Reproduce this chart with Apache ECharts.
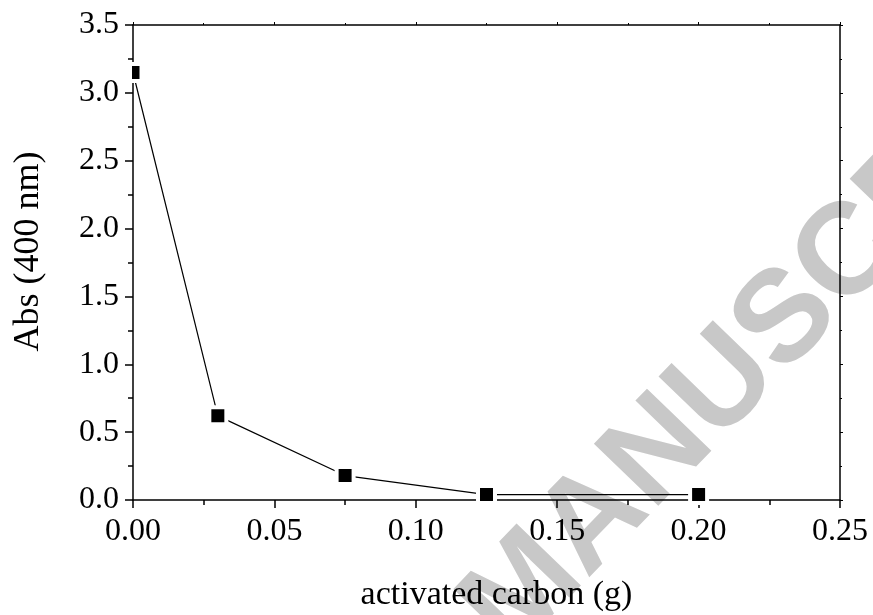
<!DOCTYPE html>
<html>
<head>
<meta charset="utf-8">
<script src="https://cdn.jsdelivr.net/npm/echarts@6/dist/echarts.min.js"></script>
<style>
html, body { margin: 0; padding: 0; background: #fff; }
#chart { width: 873px; height: 615px; }
</style>
</head>
<body>
<div id="chart"></div>
<script>
// activated carbon dose (g) vs absorbance at 400 nm
var carbon = [0, 0.03, 0.075, 0.125, 0.2];
var absorbance = [3.15, 0.62, 0.18, 0.04, 0.04];

var xTickLabels = ['0.00', '0.05', '0.10', '0.15', '0.20', '0.25'];
var yTickLabels = ['0.0', '0.5', '1.0', '1.5', '2.0', '2.5', '3.0', '3.5'];

var serif = "'Liberation Serif', 'Times New Roman', serif";

var chart = echarts.init(document.getElementById('chart'));

var points = carbon.map(function (c, i) {
  return [c, absorbance[i]];
});

var axisLine = { show: true, onZero: false, lineStyle: { color: '#000', width: 1.5 } };

var watermark = {
  type: 'text',
  id: 'wm',
  z: 0,
  x: 1088,
  y: 9,
  rotation: 46 * Math.PI / 180,
  style: {
    text: 'ACCEPTED MANUSCRIPT',
    fontFamily: "'Liberation Sans', Arial, sans-serif",
    fontWeight: 'bold',
    fontSize: 130,
    fill: '#c8c8c8',
    align: 'right',
    verticalAlign: 'middle'
  }
};

var option = {
  animation: false,
  backgroundColor: '#fff',
  grid: { left: 133, right: 33, top: 25, bottom: 115, outerBoundsMode: 'none', containLabel: false },
  xAxis: [
    {
      type: 'value',
      min: 0,
      max: 0.25,
      interval: 0.05,
      z: 3,
      name: 'activated carbon (g)',
      nameLocation: 'middle',
      nameGap: 78,
      nameTextStyle: { fontFamily: serif, fontSize: 34, color: '#000', padding: [0, 0, 0, 20] },
      axisLine: axisLine,
      axisTick: { show: true, length: 8, lineStyle: { color: '#000', width: 1.5 } },
      minorTick: { show: true, splitNumber: 2, length: 5, lineStyle: { color: '#000', width: 1.5 } },
      axisLabel: {
        margin: 16,
        fontFamily: serif,
        fontSize: 32,
        color: '#000',
        formatter: function (v) { return xTickLabels[Math.round(v / 0.05)]; }
      },
      splitLine: { show: false }
    },
    {
      type: 'value',
      position: 'top',
      min: 0,
      max: 0.25,
      interval: 0.05,
      z: 3,
      axisLine: axisLine,
      axisTick: { show: true, length: 3, lineStyle: { color: '#000', width: 1 } },
      minorTick: { show: true, splitNumber: 2, length: 2, lineStyle: { color: '#000', width: 1 } },
      axisLabel: { show: false },
      splitLine: { show: false }
    }
  ],
  yAxis: [
    {
      type: 'value',
      min: 0,
      max: 3.5,
      interval: 0.5,
      z: 3,
      name: 'Abs (400 nm)',
      nameLocation: 'middle',
      nameGap: 86,
      nameTextStyle: { fontFamily: serif, fontSize: 36, color: '#000', padding: [0, 0, 0, 22] },
      axisLine: axisLine,
      axisTick: { show: true, length: 8, lineStyle: { color: '#000', width: 1.5 } },
      minorTick: { show: true, splitNumber: 2, length: 5, lineStyle: { color: '#000', width: 1.5 } },
      axisLabel: {
        margin: 14,
        fontFamily: serif,
        fontSize: 32,
        color: '#000',
        formatter: function (v) { return yTickLabels[Math.round(v / 0.5)]; }
      },
      splitLine: { show: false }
    },
    {
      type: 'value',
      position: 'right',
      min: 0,
      max: 3.5,
      interval: 0.5,
      z: 3,
      axisLine: axisLine,
      axisTick: { show: true, length: 3, lineStyle: { color: '#000', width: 1 } },
      minorTick: { show: true, splitNumber: 2, length: 2, lineStyle: { color: '#000', width: 1 } },
      axisLabel: { show: false },
      splitLine: { show: false }
    }
  ],
  graphic: [watermark],
  series: [
    {
      type: 'line',
      xAxisIndex: 0,
      yAxisIndex: 0,
      data: points,
      symbol: 'rect',
      symbolSize: 17,
      clip: false,
      lineStyle: { color: '#000', width: 1.2 },
      itemStyle: { color: '#000', borderColor: '#fff', borderWidth: 4 }
    }
  ]
};

chart.setOption(option);

// the first square sits on the left frame and is cut by it, as in the plot
var p0 = chart.convertToPixel({ seriesIndex: 0 }, points[0]);
chart.setOption({
  graphic: [
    watermark,
    {
      type: 'rect',
      id: 'mask',
      z: 10,
      shape: { x: p0[0] - 12, y: p0[1] - 9, width: 11, height: 18 },
      style: { fill: '#fff' }
    }
  ]
});
</script>
</body>
</html>
